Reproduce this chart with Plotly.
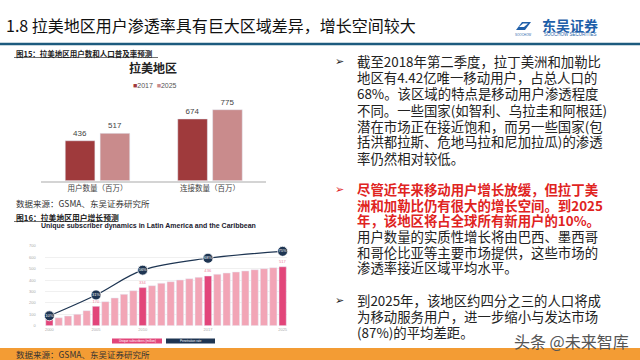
import plotly.graph_objects as go

# ---------------- data ----------------
cats1 = ["用户数量（百万）", "连接数量（百万）"]
v2017 = [436, 674]
v2025 = [517, 775]

years = list(range(2000, 2026))
subs = [62, 70, 85, 100, 132, 170, 211, 243, 275, 307, 334, 351, 372, 386,
        401, 412, 424, 436, 451, 462, 471, 480, 491, 500, 509, 517]
highlight_years = [2000, 2005, 2010, 2017, 2025]
pen_years = [2000, 2005, 2010, 2017, 2025]
pen = [10, 31, 56, 68, 75]
yticks2 = [0, 100, 200, 300, 400, 500, 600, 700]

title = "1.8 拉美地区用户渗透率具有巨大区域差异，增长空间较大"
para1 = ["截至2018年第二季度，拉丁美洲和加勒比",
         "地区有4.42亿唯一移动用户，占总人口的",
         "68%。该区域的特点是移动用户渗透程度",
         "不同。一些国家(如智利、乌拉圭和阿根廷)",
         "潜在市场正在接近饱和，而另一些国家(包",
         "括洪都拉斯、危地马拉和尼加拉瓜)的渗透",
         "率仍然相对较低。"]
para2_red = ["尽管近年来移动用户增长放缓，但拉丁美",
             "洲和加勒比仍有很大的增长空间。到2025",
             "年，该地区将占全球所有新用户的10%。"]
para2_black = ["用户数量的实质性增长将由巴西、墨西哥",
               "和哥伦比亚等主要市场提供，这些市场的",
               "渗透率接近区域平均水平。"]
para3 = ["到2025年，该地区约四分之三的人口将成",
         "为移动服务用户，进一步缩小与发达市场",
         "(87%)的平均差距。"]

W, H = 640, 360
def px(x): return x / W
def py(y): return 1 - y / H

CJK = "Noto Sans CJK SC"
C17, C25 = "#9f3a3c", "#c98b8c"
PINK_L, PINK_D, NAVY = "#f2a5b6", "#e2457a", "#1e3552"
ORANGE = "#f39c34"

fig = go.Figure()

# footer band as a filled area on its own full-width axis pair
fig.add_trace(go.Scatter(x=[0, 1, 1, 0, 0], y=[0, 0, 1, 1, 0], mode="lines",
                         fill="toself", fillcolor=ORANGE, line=dict(width=0, color=ORANGE),
                         hoverinfo="skip", xaxis="x3", yaxis="y4", showlegend=False))

# chart 1
fig.add_trace(go.Bar(x=cats1, y=v2017, name="2017", marker_color=C17,
                     text=v2017, textposition="outside", cliponaxis=False,
                     textfont=dict(size=8, color="#444", family="Liberation Sans"),
                     xaxis="x", yaxis="y", showlegend=False))
fig.add_trace(go.Bar(x=cats1, y=v2025, name="2025", marker_color=C25,
                     text=v2025, textposition="outside", cliponaxis=False,
                     textfont=dict(size=8, color="#444", family="Liberation Sans"),
                     xaxis="x", yaxis="y", showlegend=False))

# chart 2 bars
bar_colors = [PINK_D if yv in highlight_years else PINK_L for yv in years]
bar_text = [str(v) if yv in highlight_years else "" for yv, v in zip(years, subs)]
fig.add_trace(go.Bar(x=years, y=subs, marker_color=bar_colors, width=0.78,
                     text=bar_text, textposition="outside", cliponaxis=False,
                     textfont=dict(size=6, color="#ee7fa0", family="Liberation Sans"),
                     xaxis="x2", yaxis="y2", showlegend=False))
# chart 2 line
fig.add_trace(go.Scatter(x=pen_years, y=pen, mode="lines+markers+text",
                         line=dict(color=NAVY, width=1.2, shape="spline"),
                         marker=dict(size=10, color=NAVY, line=dict(color="white", width=0.8)),
                         text=[f"{p}%" for p in pen], textposition="middle center",
                         textfont=dict(size=4, color="white", family="Liberation Sans"),
                         cliponaxis=False, xaxis="x2", yaxis="y3", showlegend=False))

# chart 1 geometry: baseline 180.7px, 0.0916 px / unit
c1_top = 180.7 - 900 * 0.0916
# chart 2 geometry: zero at 325.7, 11.4 px / 100
c2_top = 325.7 - 700 * 0.114

fig.update_layout(
    width=W, height=H, margin=dict(l=0, r=0, t=0, b=0, autoexpand=False),
    paper_bgcolor="white", plot_bgcolor="rgba(0,0,0,0)",
    barmode="group", bargap=0.38, bargroupgap=0.15,
    showlegend=False,
    xaxis=dict(domain=[px(41.25), px(266.25)], showline=True, linecolor="#d4d4d4",
               linewidth=1.5, ticks="", tickfont=dict(size=7.5, family=CJK, color="#444"),
               anchor="y"),
    yaxis=dict(domain=[py(180.7), py(c1_top)], range=[0, 900], visible=False, anchor="x"),
    xaxis2=dict(domain=[px(44.7), px(287.3)], range=[1999.5, 2025.5],
                tickvals=highlight_years, ticks="", showline=False, showgrid=False,
                tickfont=dict(size=4, color="#aaa", family="Liberation Sans"), anchor="y2"),
    yaxis2=dict(domain=[py(325.7), py(c2_top)], range=[0, 700], tickvals=yticks2,
                showgrid=True, gridcolor="#f0f0f0", gridwidth=0.6, zeroline=False,
                tickfont=dict(size=4, color="#aaa", family="Liberation Sans"),
                ticklabelstandoff=8, anchor="x2"),
    yaxis3=dict(overlaying="y2", range=[0, 700 / 8.7], visible=False, anchor="x2"),
    xaxis3=dict(domain=[0, 1], range=[0, 1], visible=False, anchor="y4"),
    yaxis4=dict(domain=[0, py(348)], range=[0, 1], visible=False, anchor="x3"),
)

ann = []
def txt(x, y, s, size, color="#222", family=CJK, xanchor="left", bold=False, **kw):
    if bold:
        s = f"<b>{s}</b>"
    ann.append(dict(x=px(x), y=py(y), xref="paper", yref="paper", text=s,
                    showarrow=False, xanchor=xanchor, yanchor="middle",
                    font=dict(size=size, color=color, family=family), **kw))

# header
txt(4, 25, title, 16, color="#111")
txt(570, 25.5, "东吴证券", 14, color="#1f5fa9", bold=True, xanchor="center")
txt(570, 35, "SOOCHOW SECURITIES", 4.5, color="#1f5fa9", family="Liberation Sans", xanchor="center")
txt(523, 35, "SOOCHOW", 3, color="#1f5fa9", family="Liberation Sans", xanchor="center")

# left captions
txt(14, 53, "图15：拉美地区用户数和人口普及率预测", 7.5, color="#222", bold=True)
txt(153, 67, "拉美地区", 12, color="#222", bold=True, xanchor="center")
txt(155, 85, f"<span style='color:{C17}'>■</span>2017  <span style='color:{C25}'>■</span>2025",
    7, color="#555", family="Liberation Sans", xanchor="center")
txt(14, 203, "数据来源：GSMA、东吴证券研究所", 8.5, color="#333")
txt(14, 217, "图16：拉美地区用户增长预测", 7.8, color="#222", bold=True)
txt(148, 225.5, "Unique subscriber dynamics in Latin America and the Caribbean", 7,
    color="#1a1a2e", family="Liberation Sans", bold=True, xanchor="center")
txt(137, 341, "Unique subscribers (million)", 3, color="white", family="Liberation Sans", xanchor="center")
txt(190.5, 341, "Penetration rate", 3, color="white", family="Liberation Sans", xanchor="center")
txt(14, 354, "数据来源：GSMA、东吴证券研究所", 8.5, color="#333")

# right text
FS = 13.4
ys1 = [61, 77, 93, 109.5, 125.5, 141.5, 157.5]
for yy, line in zip(ys1, para1):
    txt(355, yy, line, FS, color="#222")
ys2 = [189, 204.5, 220, 236, 251.5, 267]
for yy, line in zip(ys2[:3], para2_red):
    txt(355, yy, line, FS, color="#e0241f", bold=True)
for yy, line in zip(ys2[3:], para2_black):
    txt(355, yy, line, FS, color="#222")
ys3 = [300, 316, 332]
for yy, line in zip(ys3, para3):
    txt(355, yy, line, FS, color="#222")
for yy, col in [(61, "#222"), (189, "#e0241f"), (300, "#222")]:
    txt(339, yy, "➢", 11, color=col, family="DejaVu Sans", xanchor="center")

# watermark
txt(571, 341, "头条 @未来智库", 16, color="#555", xanchor="center")

fig.update_layout(annotations=ann)

shapes = [
    dict(type="rect", xref="paper", yref="paper", x0=0, x1=1, y0=0, y1=py(348),
         fillcolor=ORANGE, line=dict(width=0), layer="below"),
    dict(type="line", xref="paper", yref="paper", x0=0, x1=1, y0=py(44), y1=py(44),
         line=dict(color="#1d5b7e", width=2.5)),
    dict(type="line", xref="paper", yref="paper", x0=px(14), x1=px(158), y0=py(57.5), y1=py(57.5),
         line=dict(color="#333", width=0.7)),
    dict(type="line", xref="paper", yref="paper", x0=px(14), x1=px(117), y0=py(221.5), y1=py(221.5),
         line=dict(color="#333", width=0.7)),
    dict(type="rect", xref="paper", yref="paper", x0=px(112), x1=px(162), y0=py(343.5), y1=py(338.5),
         fillcolor=PINK_D, line=dict(width=0)),
    dict(type="rect", xref="paper", yref="paper", x0=px(166), x1=px(215), y0=py(343.5), y1=py(338.5),
         fillcolor=NAVY, line=dict(width=0)),
    # logo icon
    dict(type="path", xref="paper", yref="paper",
         path=f"M {px(516)} {py(30)} L {px(522)} {py(22)} L {px(531)} {py(22)} L {px(525)} {py(30)} Z",
         fillcolor="#1f5fa9", line=dict(width=0)),
    dict(type="path", xref="paper", yref="paper",
         path=f"M {px(519)} {py(27)} L {px(523)} {py(23.5)} L {px(528)} {py(23.5)} L {px(524)} {py(27)} Z",
         fillcolor="white", line=dict(width=0)),
]
fig.update_layout(shapes=shapes)

fig.write_html("out.html", config={"displayModeBar": False},
               post_script="document.body.style.margin='0px';document.body.style.overflow='hidden';")
